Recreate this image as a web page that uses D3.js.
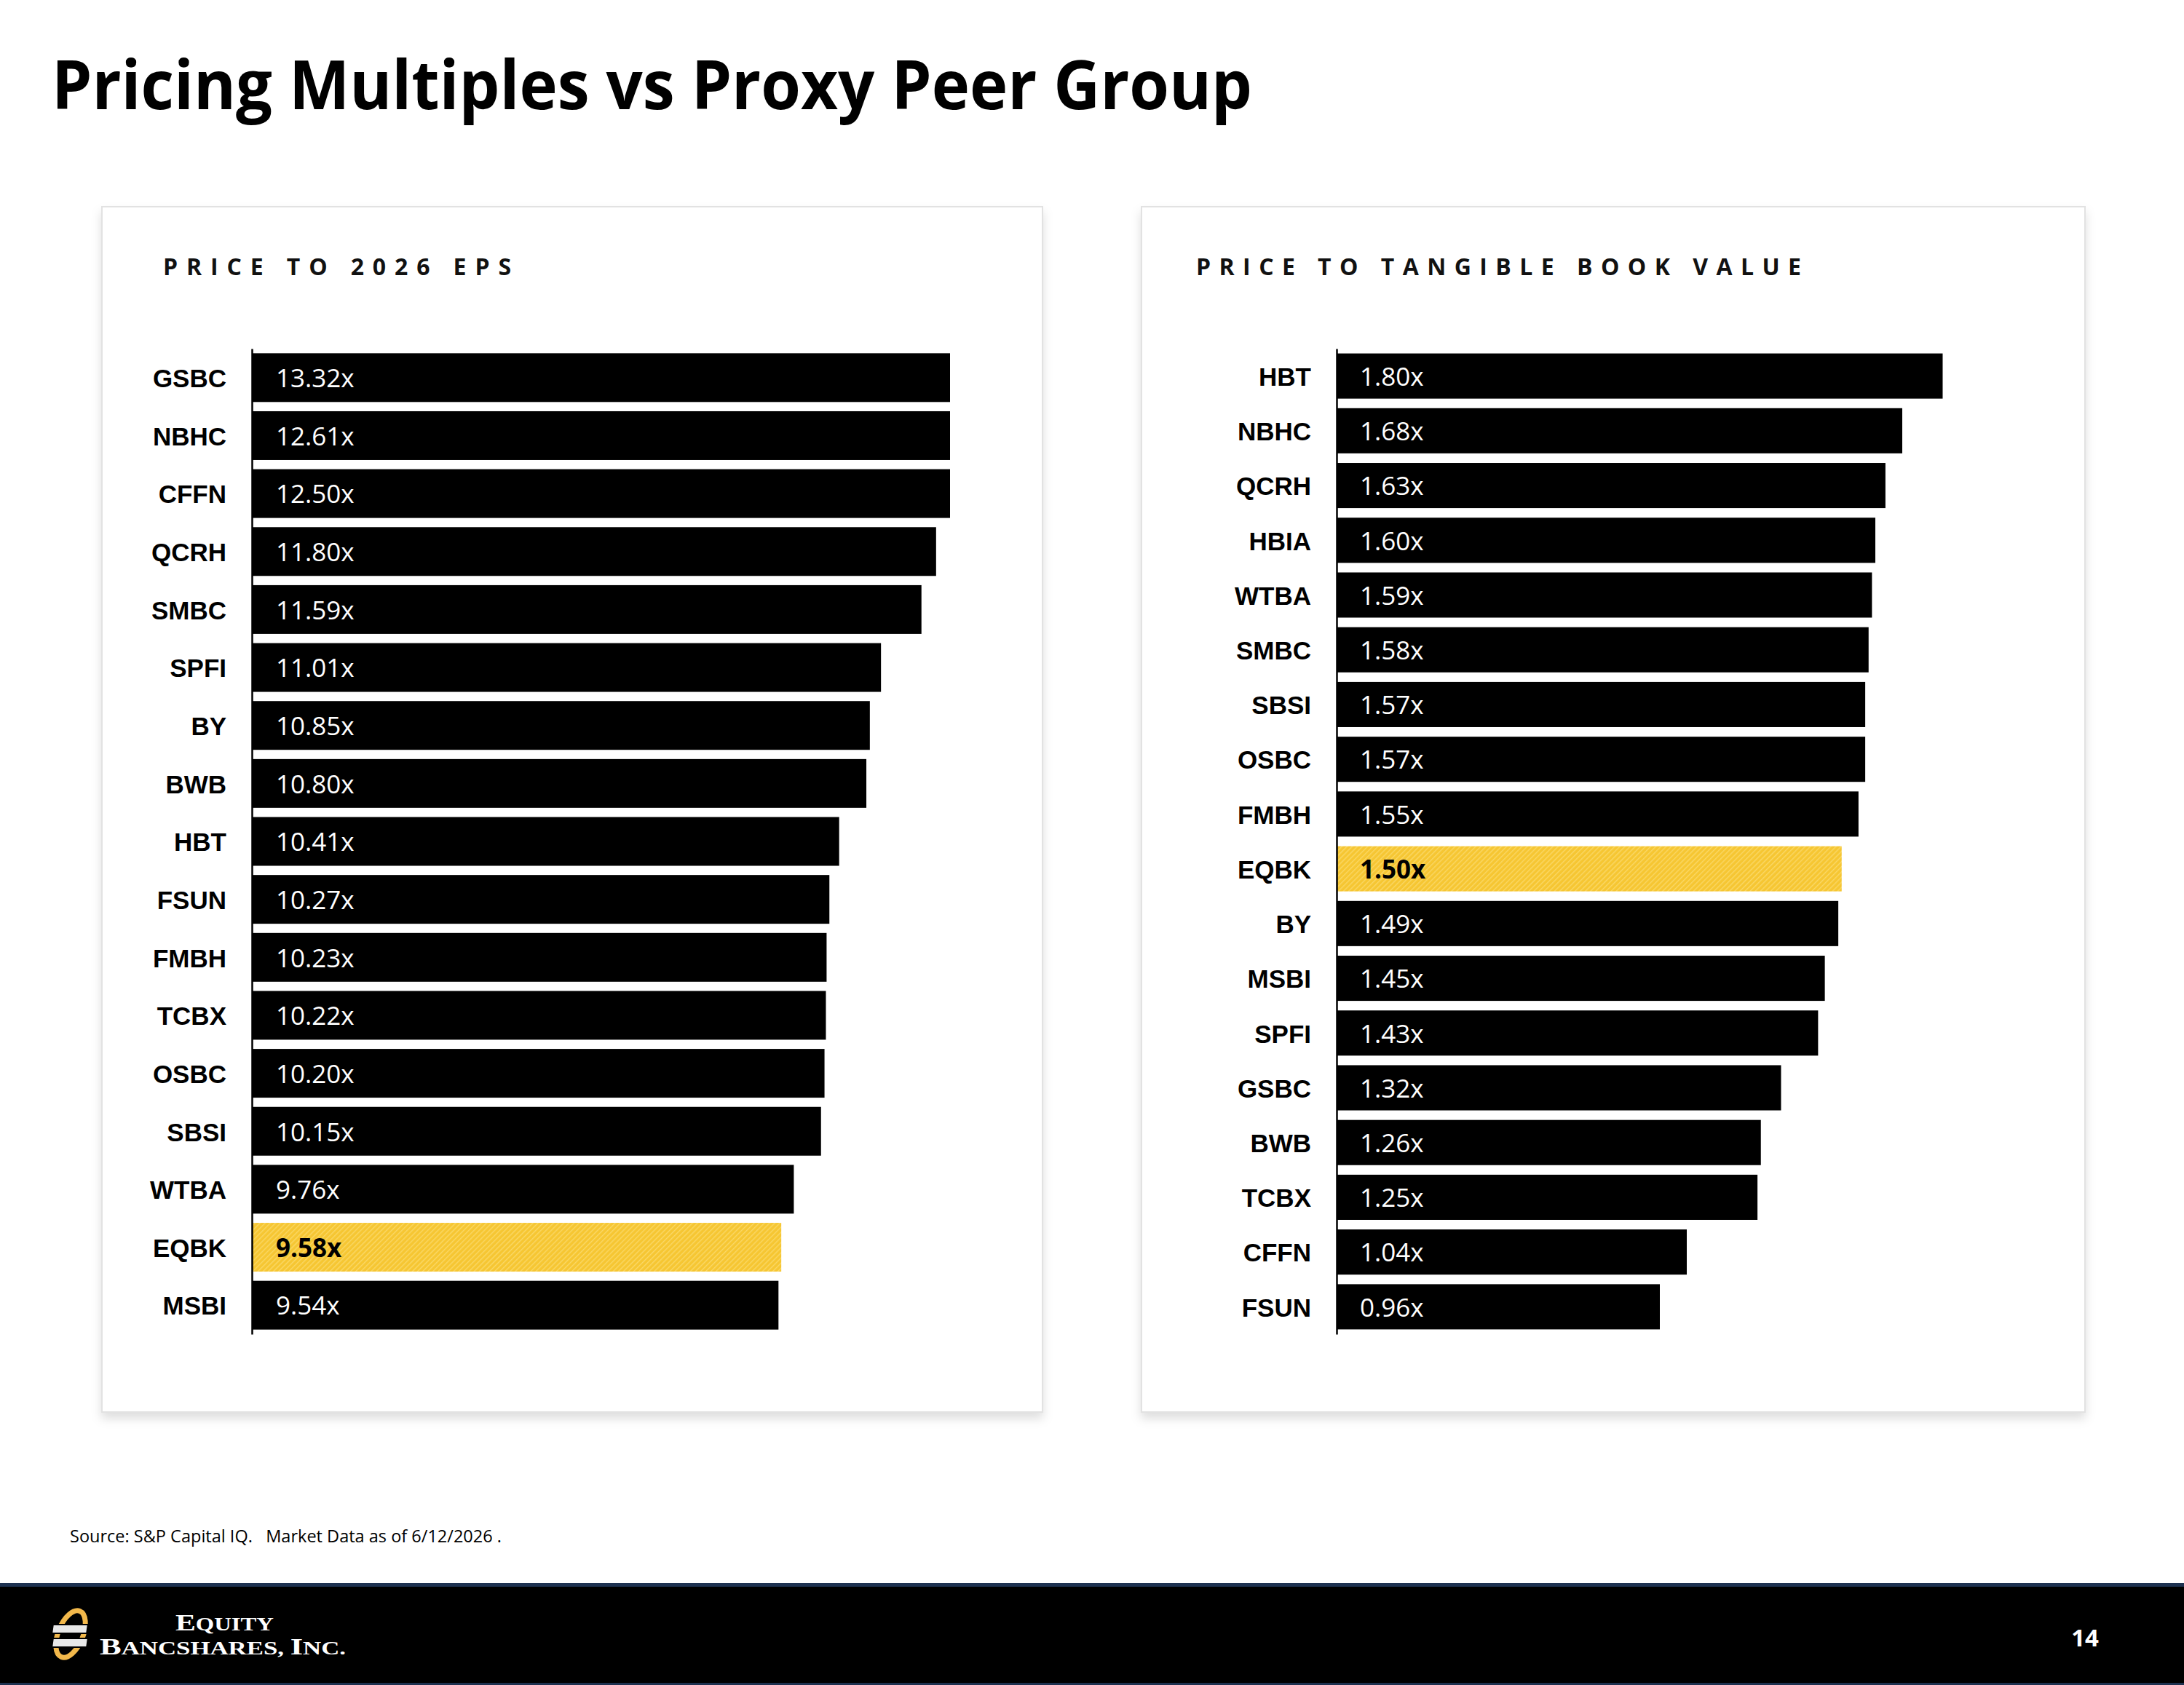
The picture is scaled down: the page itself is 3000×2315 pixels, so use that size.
<!DOCTYPE html>
<html>
<head>
<meta charset="utf-8">
<script src="https://cdn.jsdelivr.net/npm/d3@7"></script>
<style>
  body { margin: 0; background: #fff; }
  svg { display: block; }
</style>
</head>
<body>
<svg id="slide" width="3000" height="2315"></svg>
<script>
// data
const epsTickers = ["GSBC", "NBHC", "CFFN", "QCRH", "SMBC", "SPFI", "BY", "BWB", "HBT", "FSUN",
  "FMBH", "TCBX", "OSBC", "SBSI", "WTBA", "EQBK", "MSBI"];
const epsValues = [13.32, 12.61, 12.50, 11.80, 11.59, 11.01, 10.85, 10.80, 10.41, 10.27,
  10.23, 10.22, 10.20, 10.15, 9.76, 9.58, 9.54];

const tbvTickers = ["HBT", "NBHC", "QCRH", "HBIA", "WTBA", "SMBC", "SBSI", "OSBC", "FMBH", "EQBK",
  "BY", "MSBI", "SPFI", "GSBC", "BWB", "TCBX", "CFFN", "FSUN"];
const tbvValues = [1.80, 1.68, 1.63, 1.60, 1.59, 1.58, 1.57, 1.57, 1.55, 1.50,
  1.49, 1.45, 1.43, 1.32, 1.26, 1.25, 1.04, 0.96];

const highlight = "EQBK";
const title = "Pricing Multiples vs Proxy Peer Group";
const epsTitle = "PRICE TO 2026 EPS";
const tbvTitle = "PRICE TO TANGIBLE BOOK VALUE";
const sourceNote = "Source: S&P Capital IQ.\u00a0\u00a0 Market Data as of 6/12/2026 .";
const pageNumber = "14";

const svg = d3.select("#slide");
const defs = svg.append("defs");

// yellow with fine diagonal hatching
const pat = defs.append("pattern")
  .attr("id", "gold")
  .attr("patternUnits", "userSpaceOnUse")
  .attr("width", 5).attr("height", 5)
  .attr("patternTransform", "rotate(45)");
pat.append("rect").attr("width", 5).attr("height", 5).attr("fill", "#f6c632");
pat.append("rect").attr("width", 1.4).attr("height", 5).attr("fill", "#fad866");

const shadow = defs.append("filter").attr("id", "shadow")
  .attr("x", "-5%").attr("y", "-5%").attr("width", "110%").attr("height", "112%");
shadow.append("feDropShadow")
  .attr("dx", 0).attr("dy", 8).attr("stdDeviation", 7)
  .attr("flood-color", "#000").attr("flood-opacity", 0.13);

// title
svg.append("text")
  .attr("x", 71).attr("y", 150)
  .attr("textLength", 1649)
  .attr("lengthAdjust", "spacingAndGlyphs")
  .style("font-family", "'Open Sans', sans-serif")
  .style("font-weight", 700)
  .style("font-size", "93px")
  .attr("fill", "#000")
  .text(title);

function panel(opts) {
  const g = svg.append("g");

  g.append("rect")
    .attr("x", opts.box[0]).attr("y", opts.box[1])
    .attr("width", opts.box[2]).attr("height", opts.box[3])
    .attr("fill", "#fff")
    .attr("stroke", "#e2e2e2")
    .attr("stroke-width", 2)
    .attr("filter", "url(#shadow)");

  g.append("text")
    .attr("x", opts.headX).attr("y", 378)
    .attr("textLength", opts.headW)
    .attr("lengthAdjust", "spacing")
    .style("font-family", "'Open Sans', sans-serif")
    .style("font-weight", 700)
    .style("font-size", "32px")
    .attr("fill", "#111")
    .text(opts.heading);

  const y = d3.scaleBand()
    .domain(opts.tickers)
    .range([479, 1833])
    .paddingInner(opts.pad)
    .paddingOuter(opts.pad / 2);

  const x = d3.scaleLinear()
    .domain(opts.domain)
    .range(opts.xRange)
    .clamp(true);

  const rows = opts.tickers.map((t, i) => ({ t, v: opts.values[i] }));

  g.selectAll("rect.bar")
    .data(rows)
    .join("rect")
    .attr("class", "bar")
    .attr("x", x(opts.domain[0]))
    .attr("y", d => y(d.t))
    .attr("width", d => x(d.v) - x(opts.domain[0]))
    .attr("height", y.bandwidth())
    .attr("fill", d => d.t === highlight ? "url(#gold)" : "#000");

  g.selectAll("text.val")
    .data(rows)
    .join("text")
    .attr("class", "val")
    .attr("x", x(opts.domain[0]) + 32)
    .attr("y", d => y(d.t) + y.bandwidth() / 2)
    .attr("dy", "0.38em")
    .style("font-family", "'Open Sans', sans-serif")
    .style("font-size", "35px")
    .style("font-weight", d => d.t === highlight ? 700 : 400)
    .attr("fill", d => d.t === highlight ? "#000" : "#fff")
    .text(d => d.v.toFixed(2) + "x");

  const axis = g.append("g")
    .attr("transform", `translate(${opts.axisX},0)`)
    .call(d3.axisLeft(y).tickSize(0).tickSizeOuter(0).tickPadding(35));
  axis.select(".domain").attr("stroke", "#000").attr("stroke-width", 2.5);
  axis.selectAll("text")
    .attr("dy", "0.38em")
    .style("font-family", "'Liberation Sans', Arial, sans-serif")
    .style("font-weight", 700)
    .style("font-size", "35px")
    .attr("fill", "#000");
}

panel({
  box: [140, 284, 1292, 1656],
  heading: epsTitle, headX: 224, headW: 478,
  tickers: epsTickers, values: epsValues,
  domain: [2, 12], xRange: [347, 1305],
  axisX: 346, pad: 0.159
});

panel({
  box: [1568, 284, 1296, 1656],
  heading: tbvTitle, headX: 1643, headW: 831,
  tickers: tbvTickers, values: tbvValues,
  domain: [0, 2], xRange: [1836, 2761],
  axisX: 1836, pad: 0.175
});

// source note
svg.append("text")
  .attr("x", 96).attr("y", 2119)
  .attr("textLength", 593)
  .attr("lengthAdjust", "spacingAndGlyphs")
  .style("font-family", "'Open Sans', sans-serif")
  .style("font-size", "23px")
  .attr("fill", "#000")
  .text(sourceNote);

// footer band
svg.append("rect").attr("x", 0).attr("y", 2175).attr("width", 3000).attr("height", 140).attr("fill", "#000");
svg.append("rect").attr("x", 0).attr("y", 2175).attr("width", 3000).attr("height", 5).attr("fill", "#1d3150");
svg.append("rect").attr("x", 0).attr("y", 2312).attr("width", 3000).attr("height", 3).attr("fill", "#1d3150");

svg.append("text")
  .attr("x", 2864).attr("y", 2262)
  .attr("text-anchor", "middle")
  .style("font-family", "'Open Sans', sans-serif")
  .style("font-weight", 700)
  .style("font-size", "33px")
  .attr("fill", "#fff")
  .text(pageNumber);

// logo mark
const logo = svg.append("g");
logo.append("ellipse")
  .attr("cx", 97).attr("cy", 2245)
  .attr("rx", 17).attr("ry", 34)
  .attr("transform", "rotate(22 97 2245)")
  .attr("fill", "none")
  .attr("stroke", "#f2b84b")
  .attr("stroke-width", 7);
[2232, 2251].forEach(yy => {
  logo.append("rect")
    .attr("x", 72).attr("y", yy).attr("width", 48).attr("height", 12)
    .attr("transform", `skewX(-8)`)
    .attr("transform-origin", `96 ${yy + 6}`)
    .attr("fill", "#e8e8e8")
    .attr("stroke", "#000")
    .attr("stroke-width", 2);
});

// company name in small caps: large initials, smaller capitals
const logoText = svg.append("g")
  .style("font-family", "'Liberation Serif', 'DejaVu Serif', serif")
  .style("font-weight", 700)
  .attr("fill", "#fff");
function smallCaps(x, y, w, parts) {
  const t = logoText.append("text")
    .attr("x", x).attr("y", y)
    .attr("textLength", w).attr("lengthAdjust", "spacingAndGlyphs");
  parts.forEach(([s, big]) => {
    t.append("tspan").style("font-size", big ? "32px" : "25px").text(s);
  });
}
smallCaps(241, 2240, 135, [["E", true], ["QUITY", false]]);
smallCaps(137, 2273, 338, [["B", true], ["ANCSHARES, ", false], ["I", true], ["NC.", false]]);
</script>
</body>
</html>
